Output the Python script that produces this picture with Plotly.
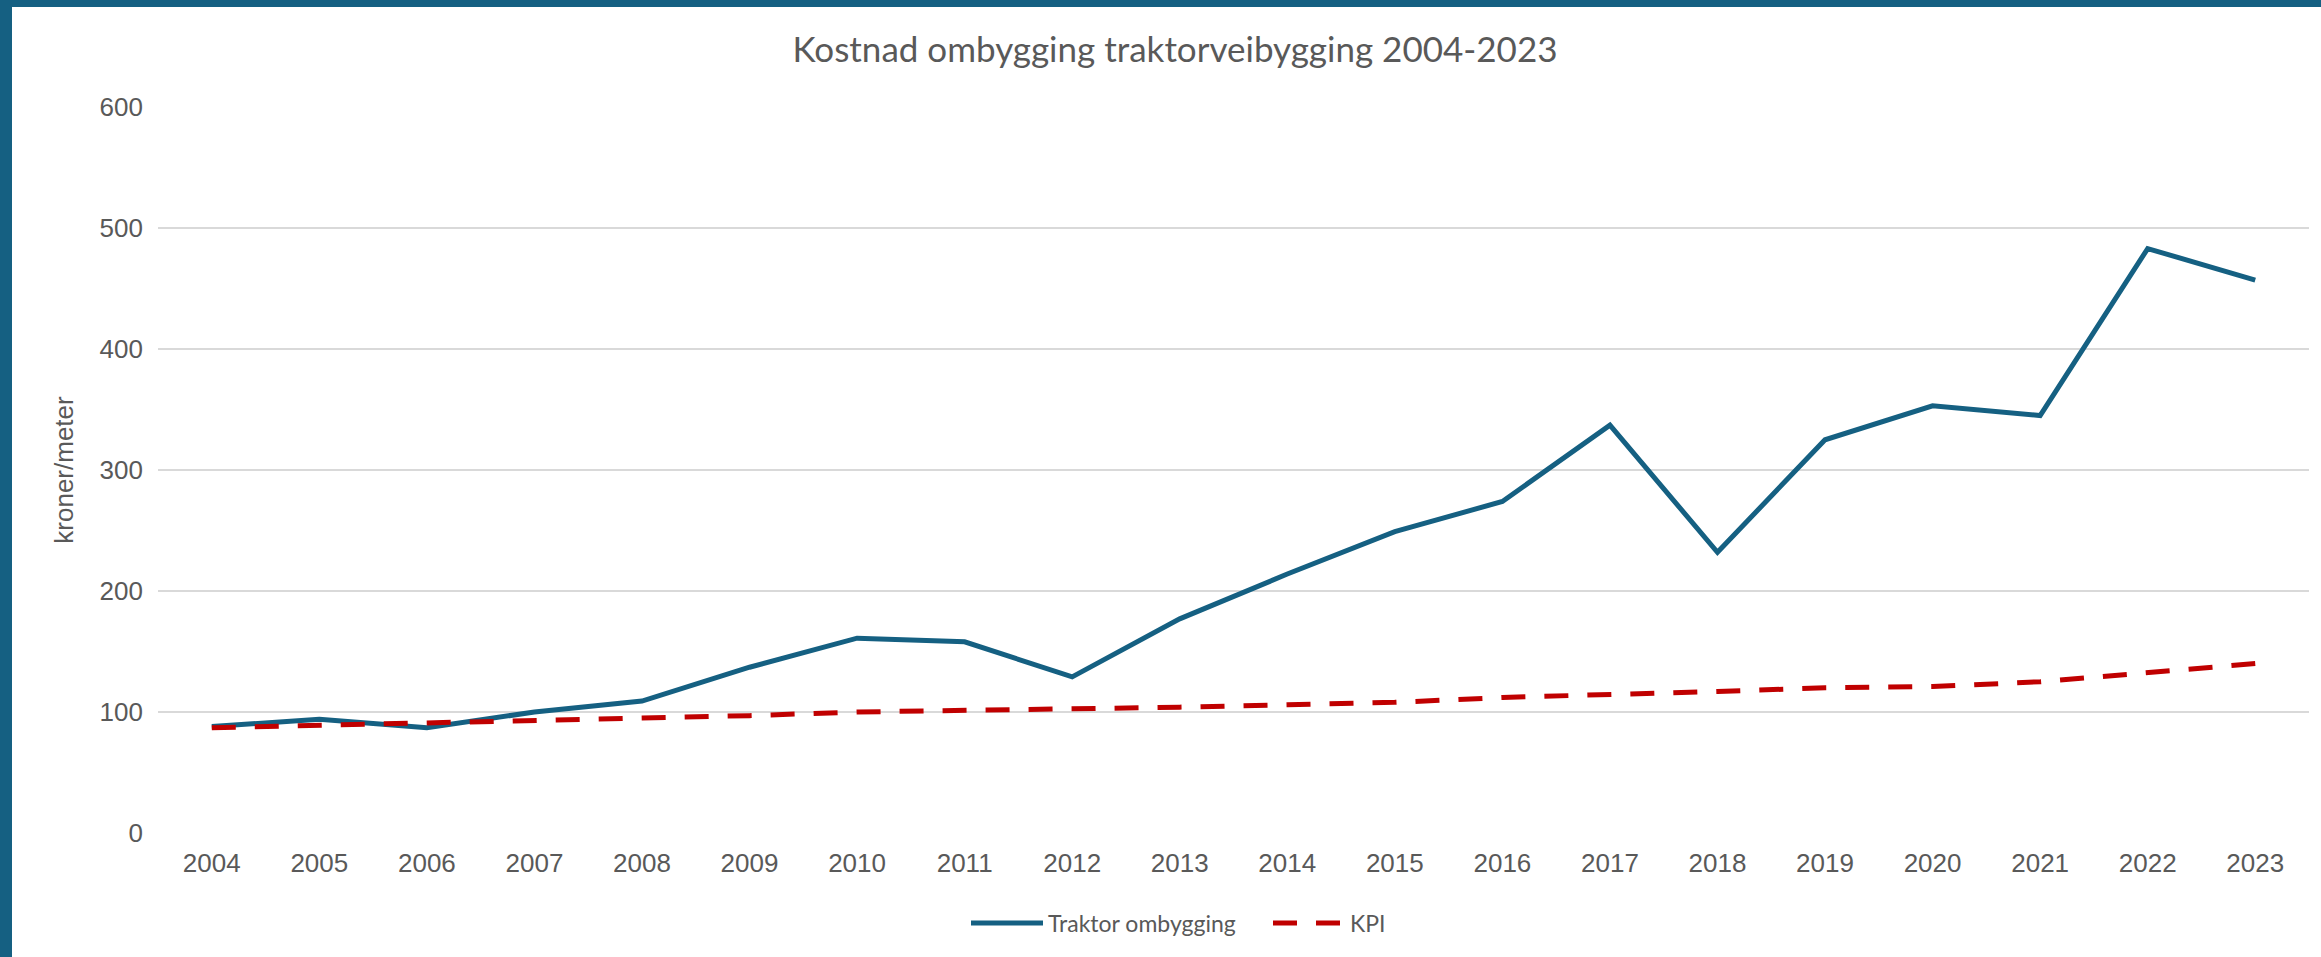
import plotly.graph_objects as go

years = [str(y) for y in range(2004, 2024)]
traktor = [88, 94, 87, 100, 109, 137, 161, 158, 129, 177, 214, 249, 274, 337, 232, 325, 353, 345, 483, 457]
kpi = [87, 89, 91, 92, 95, 97, 100, 101, 102, 104, 106, 108, 112, 114, 117, 120, 121, 125, 133, 140]
y_ticks = [0, 100, 200, 300, 400, 500, 600]

W, H = 2321, 957
L, R, T, B = 158, 12, 107, 124
pw, ph = W - L - R, H - T - B

BLUE = "#156082"
RED = "#C00000"
GREY = "#595959"

fig = go.Figure()
fig.add_trace(go.Scatter(x=years, y=traktor, mode="lines", name="Traktor ombygging",
                         line=dict(color=BLUE, width=5)))
fig.add_trace(go.Scatter(x=years, y=kpi, mode="lines", name="KPI",
                         line=dict(color=RED, width=5, dash="24px,19px")))

# frame bars (top and left)
fig.add_shape(type="rect", xref="paper", yref="paper",
              x0=(0 - L) / pw, x1=(W - L) / pw, y0=(H - B - 7) / ph, y1=(H - B) / ph + 0.01,
              fillcolor=BLUE, line_width=0, layer="above")
fig.add_shape(type="rect", xref="paper", yref="paper",
              x0=(0 - L) / pw - 0.01, x1=(12 - L) / pw, y0=-B / ph - 0.01, y1=(H - B) / ph + 0.01,
              fillcolor=BLUE, line_width=0, layer="above")

fig.update_layout(
    width=W, height=H,
    margin=dict(l=L, r=R, t=T, b=B),
    paper_bgcolor="white", plot_bgcolor="white",
    title=dict(text="Kostnad ombygging traktorveibygging 2004-2023",
               font=dict(family="Lato", size=35, color=GREY),
               x=1175 / W, xref="container", xanchor="center",
               y=1 - 50 / H, yref="container", yanchor="middle"),
    showlegend=True,
    legend=dict(orientation="h", x=(1268 - L) / pw, xanchor="center",
                y=(H - B - 923) / ph, yanchor="middle",
                font=dict(family="Lato", size=23, color=GREY),
                itemwidth=72, tracegroupgap=0, entrywidth=215),
    xaxis=dict(type="category", range=[-0.5, 19.5], showgrid=False, showline=False,
               zeroline=False, ticks="", tickfont=dict(family="Liberation Sans", size=26, color=GREY),
               ticklabelstandoff=12, fixedrange=True),
    yaxis=dict(range=[0, 600], tickvals=y_ticks, showgrid=True, gridcolor="#D9D9D9", gridwidth=2,
               zeroline=False, showline=False, ticks="",
               tickfont=dict(family="Liberation Sans", size=26, color=GREY),
               ticklabelstandoff=14,
               title=dict(text="kroner/meter", font=dict(family="Liberation Sans", size=26, color=GREY),
                          standoff=18)),
)

fig.write_html("out.html", config={"displayModeBar": False},
               post_script="document.body.style.margin='0';document.body.style.overflow='hidden';")
